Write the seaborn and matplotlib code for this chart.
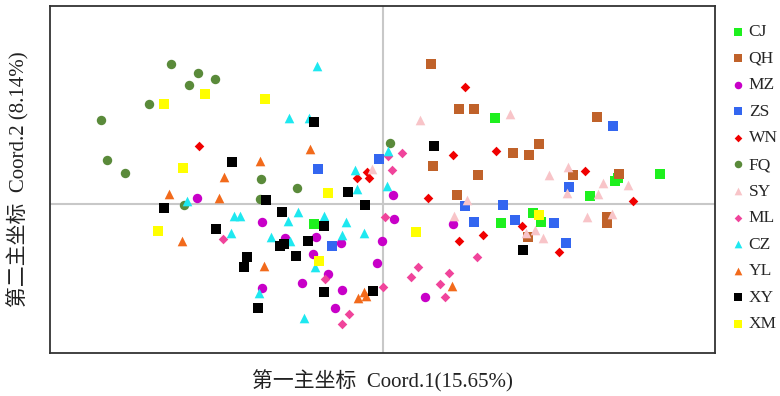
import pandas as pd
import matplotlib.pyplot as plt
import seaborn as sns

# PCoA scores per population (Coord.1, Coord.2)
groups = ["CJ", "QH", "MZ", "ZS", "WN", "FQ", "SY", "ML", "CZ", "YL", "XY", "XM"]

cj_x = [0.112, -0.069, 0.118, 0.150, 0.158, 0.207, 0.232, 0.235, 0.277]
cj_y = [0.086, -0.020, -0.019, -0.009, -0.018, 0.008, 0.023, 0.026, 0.030]

qh_x = [0.048, 0.076, 0.091, 0.130, 0.146, 0.156, 0.214, 0.050, 0.095, 0.190, 0.236, 0.074, 0.224, 0.224, 0.145]
qh_y = [0.140, 0.095, 0.095, 0.051, 0.049, 0.060, 0.087, 0.038, 0.029, 0.029, 0.030, 0.009, -0.013, -0.019, -0.033]

mz_x = [-0.186, -0.121, -0.098, -0.067, -0.042, -0.070, -0.055, -0.121, -0.081, -0.041, -0.048, -0.001, -0.006, 0.010, 0.011, 0.070, 0.042]
mz_y = [0.006, -0.018, -0.034, -0.033, -0.039, -0.050, -0.070, -0.084, -0.079, -0.086, -0.104, -0.037, -0.059, 0.009, -0.015, -0.020, -0.093]

zs_x = [-0.004, -0.065, -0.051, 0.082, 0.120, 0.091, 0.132, 0.171, 0.183, 0.186, 0.230]
zs_y = [0.045, 0.035, -0.042, -0.002, -0.001, -0.018, -0.016, -0.019, -0.039, 0.017, 0.078]

wn_x = [-0.184, 0.082, 0.070, 0.113, 0.202, -0.026, -0.016, -0.014, 0.045, 0.076, 0.100, 0.139, 0.250, 0.176]
wn_y = [0.058, 0.117, 0.049, 0.053, 0.033, 0.026, 0.032, 0.026, 0.006, -0.037, -0.031, -0.022, 0.003, -0.048]

fq_x = [-0.212, -0.185, -0.194, -0.168, -0.234, -0.282, -0.276, -0.258, -0.199, -0.122, -0.086, -0.123, 0.007]
fq_y = [0.140, 0.131, 0.119, 0.125, 0.100, 0.084, 0.044, 0.031, -0.001, 0.025, 0.016, 0.005, 0.061]

sy_x = [0.037, 0.127, -0.011, 0.185, 0.166, 0.084, 0.071, 0.143, 0.152, 0.220, 0.245, 0.215, 0.184, 0.204, 0.229, 0.160]
sy_y = [0.084, 0.090, 0.035, 0.037, 0.029, 0.004, -0.012, -0.029, -0.026, 0.021, 0.019, 0.010, 0.011, -0.013, -0.010, -0.034]

ml_x = [-0.160, 0.005, 0.019, 0.009, 0.002, -0.058, -0.034, -0.041, 0.000, 0.035, 0.028, 0.066, 0.057, 0.062, 0.094]
ml_y = [-0.035, 0.048, 0.051, 0.034, -0.013, -0.075, -0.110, -0.120, -0.083, -0.063, -0.073, -0.069, -0.080, -0.093, -0.053]

cz_x = [-0.066, -0.094, -0.074, -0.028, 0.005, -0.196, -0.149, -0.143, -0.085, -0.095, -0.059,
        -0.037, -0.152, -0.112, -0.093, -0.041, -0.019, -0.026, 0.004, -0.068, -0.124, -0.079]
cz_y = [0.138, 0.086, 0.086, 0.034, 0.053, 0.003, -0.012, -0.012, -0.008, -0.017, -0.012,
        -0.018, -0.029, -0.033, -0.037, -0.031, -0.029, 0.015, 0.018, -0.063, -0.089, -0.114]

yl_x = [-0.073, -0.123, -0.159, -0.214, -0.201, -0.164, -0.119, -0.025, -0.017, -0.019, 0.069]
yl_y = [0.055, 0.043, 0.027, 0.010, -0.037, 0.006, -0.062, -0.094, -0.092, -0.088, -0.082]

xy_x = [-0.069, -0.151, 0.051, -0.219, -0.117, -0.035, -0.018, -0.101, -0.059, -0.167,
        -0.075, -0.103, -0.099, -0.087, -0.136, -0.139, -0.059, -0.010, -0.125, 0.140]
xy_y = [0.082, 0.042, 0.058, -0.004, 0.004, 0.012, -0.001, -0.008, -0.022, -0.025,
        -0.037, -0.042, -0.040, -0.052, -0.053, -0.063, -0.088, -0.087, -0.104, -0.046]

xm_x = [-0.219, -0.178, -0.200, -0.118, -0.225, -0.055, -0.064, 0.033, 0.156]
xm_y = [0.100, 0.110, 0.036, 0.105, -0.027, 0.011, -0.057, -0.028, -0.011]

coords = {
    "CJ": (cj_x, cj_y), "QH": (qh_x, qh_y), "MZ": (mz_x, mz_y), "ZS": (zs_x, zs_y),
    "WN": (wn_x, wn_y), "FQ": (fq_x, fq_y), "SY": (sy_x, sy_y), "ML": (ml_x, ml_y),
    "CZ": (cz_x, cz_y), "YL": (yl_x, yl_y), "XY": (xy_x, xy_y), "XM": (xm_x, xm_y),
}

colors = {
    "CJ": "#1ef01e", "QH": "#c0622a", "MZ": "#c800c8", "ZS": "#3366f0",
    "WN": "#f00000", "FQ": "#5a8a3a", "SY": "#f8c4c8", "ML": "#f0449b",
    "CZ": "#1ee8f0", "YL": "#f26a1b", "XY": "#000000", "XM": "#ffff00",
}
markers = {
    "CJ": "s", "QH": "s", "MZ": "o", "ZS": "s", "WN": "D", "FQ": "o",
    "SY": "^", "ML": "D", "CZ": "^", "YL": "^", "XY": "s", "XM": "s",
}
sizes = {"s": 46, "o": 46, "D": 24, "^": 48}

sns.set_style("white")
plt.rcParams["font.family"] = ["Liberation Serif", "Noto Sans CJK SC", "DejaVu Sans"]

fig = plt.figure(figsize=(7.8, 3.96), dpi=100)
ax = fig.add_axes([50 / 780, 1 - 353 / 396, 665 / 780, 347 / 396])

ax.axhline(0, color="#c8c8c8", lw=1.5, zorder=0)
ax.axvline(0, color="#c8c8c8", lw=1.5, zorder=0)

for g in groups:
    x, y = coords[g]
    df = pd.DataFrame({"x": x, "y": y})
    m = markers[g]
    sns.scatterplot(data=df, x="x", y="y", ax=ax, color=colors[g], marker=m,
                    s=sizes[m], linewidth=0, label=g, zorder=3)

ax.set_xlim(-0.333, 0.332)
ax.set_ylim(-0.149, 0.198)
ax.set_xticks([])
ax.set_yticks([])
for sp in ax.spines.values():
    sp.set_color("#333333")
    sp.set_linewidth(1.3)

ax.set_xlabel("第一主坐标  Coord.1(15.65%)", fontsize=15, color="#222222", labelpad=12)
ax.set_ylabel("第二主坐标  Coord.2 (8.14%)", fontsize=15, color="#222222", labelpad=15)

ax.legend(loc="upper left", bbox_to_anchor=(733 / 780, 1 - 24 / 396),
          bbox_transform=fig.transFigure, frameon=False, fontsize=12.5,
          markerscale=0.8, handlelength=0.6, handletextpad=0.3,
          labelspacing=0.6, borderaxespad=0, borderpad=0)

plt.savefig("out.png", dpi=100)
